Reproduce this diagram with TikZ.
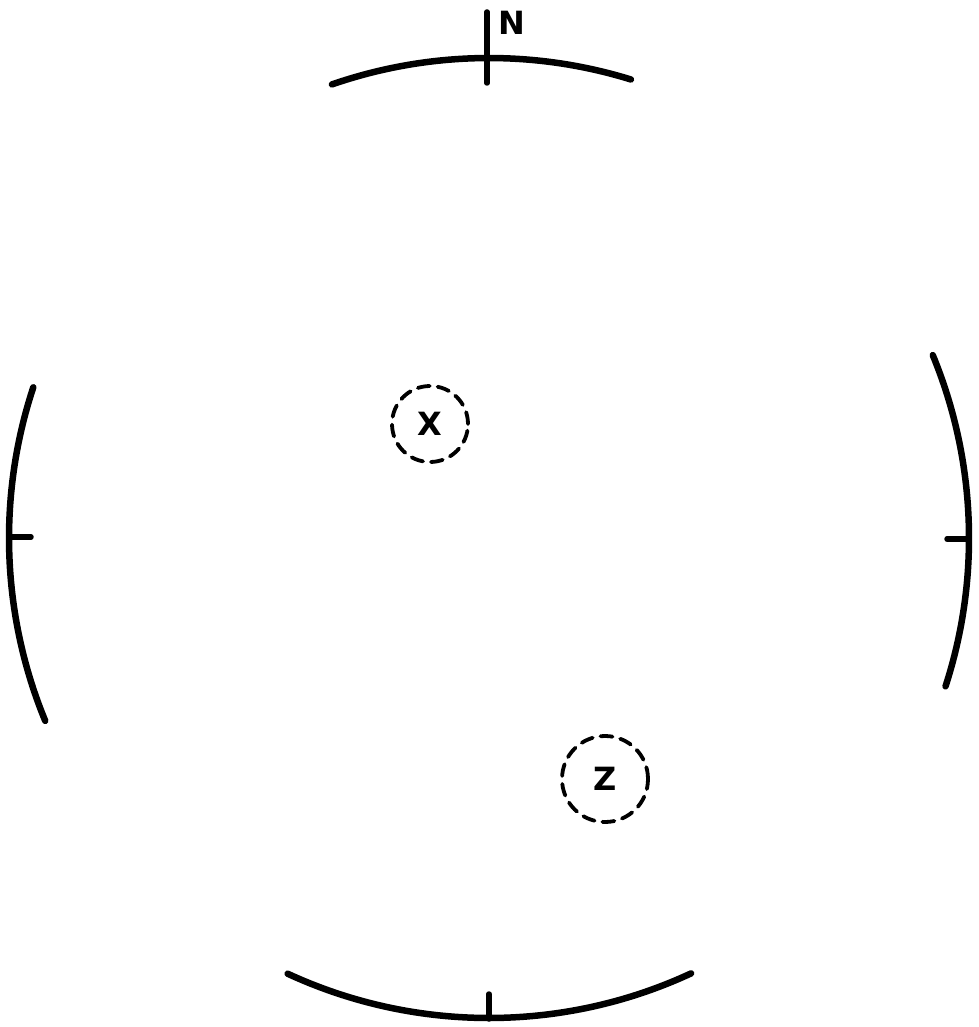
\documentclass[tikz,border=0pt]{standalone}
\usepackage{fontspec}
\setmainfont{DejaVu Sans}
\begin{document}
\begin{tikzpicture}[x=1pt,y=-1pt,
  rim/.style={line width=6.5pt, line cap=round},
  tick/.style={line width=5.5pt, line cap=round},
  label/.style={font=\fontsize{32}{32}\selectfont\bfseries},
  zone/.style={circle, draw, line width=3.8pt, line cap=round, dash pattern=on 12pt off 8pt, inner sep=0pt, font=\fontsize{32}{32}\selectfont\bfseries}]
\useasboundingbox (0,0) rectangle (978,1027);
\coordinate (c) at (489,538);
% rim arcs (y points down, so upward angles are negative)
\draw[rim] (c) ++(-72.8:480) arc[start angle=-72.8, end angle=-109.1, radius=480];
\draw[rim] (c) ++(-245.2:480) arc[start angle=-245.2, end angle=-294.9, radius=480];
\draw[rim] (c) ++(-161.7:480) arc[start angle=-161.7, end angle=-202.4, radius=480];
\draw[rim] (c) ++(-22.4:480) arc[start angle=-22.4, end angle=18, radius=480];
% ticks
\coordinate (n1) at (487,12); \coordinate (n2) at (487,83);
\coordinate (s1) at (489,994); \coordinate (s2) at (489,1019);
\coordinate (w1) at (10,537); \coordinate (w2) at (31,537);
\coordinate (e1) at (947,539); \coordinate (e2) at (968,539);
\draw[tick] (n1) -- (n2);
\draw[tick] (s1) -- (s2);
\draw[tick] (w1) -- (w2);
\draw[tick] (e1) -- (e2);
\node[label] (N) at (512,23) {N};
\node[zone, minimum size=76pt] (X) at (430,424) {X};
\node[zone, minimum size=86pt] (Z) at (605,779) {Z};
\end{tikzpicture}
\end{document}
